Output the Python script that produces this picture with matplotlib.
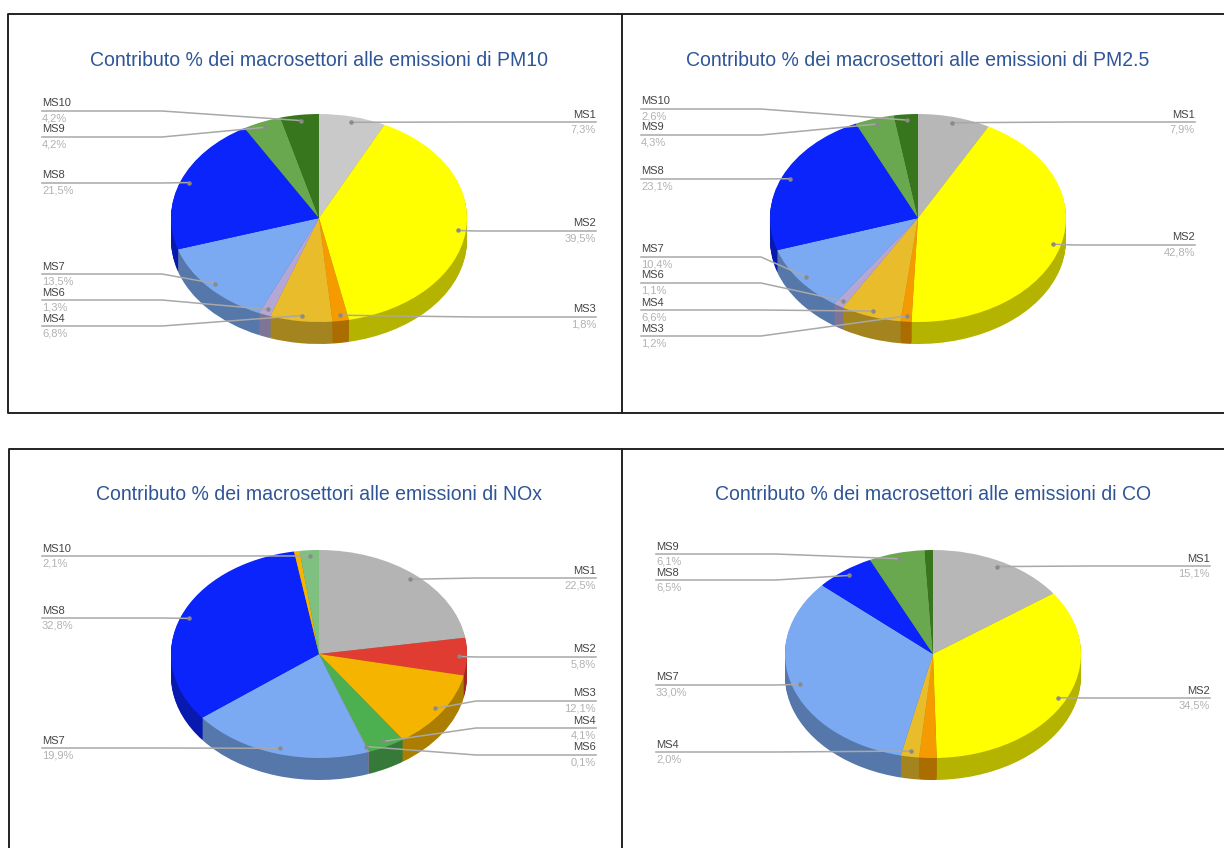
import numpy as np
import matplotlib
matplotlib.use("Agg")
import matplotlib.pyplot as plt
from matplotlib.colors import to_rgb

plt.rcParams['font.family'] = ['Liberation Sans', 'DejaVu Sans']

# Slice data, clockwise from the top
pm10_names = ["MS1", "MS2", "MS3", "MS4", "MS6", "MS7", "MS8", "MS9", "MS10"]
pm10_values = [7.3, 39.5, 1.8, 6.8, 1.3, 13.5, 21.5, 4.2, 4.2]
pm10_colors = ["#c9c9c9", "#ffff00", "#f59b00", "#e9bc2c", "#b4a7d6", "#7baaf2", "#0b24fb", "#6aa84f", "#38761d"]
pm10_line_y = [122, 231, 317, 326, 300, 274, 183, 137, 111]

pm25_names = ["MS1", "MS2", "MS3", "MS4", "MS6", "MS7", "MS8", "MS9", "MS10"]
pm25_values = [7.9, 42.8, 1.2, 6.6, 1.1, 10.4, 23.1, 4.3, 2.6]
pm25_colors = ["#b7b7b7", "#ffff00", "#f59b00", "#e9bc2c", "#b4a7d6", "#7baaf2", "#0b24fb", "#6aa84f", "#38761d"]
pm25_line_y = [122, 245, 336, 310, 283, 257, 179, 135, 109]

nox_names = ["MS1", "MS2", "MS3", "MS4", "MS6", "MS7", "MS8", "", "MS10"]
nox_values = [22.5, 5.8, 12.1, 4.1, 0.1, 19.9, 32.8, 0.6, 2.1]
nox_colors = ["#b4b4b4", "#e03c31", "#f4b400", "#4caf50", "#b4a7d6", "#7baaf2", "#0b24fb", "#f4b400", "#7fbf7f"]
nox_line_y = [578, 657, 701, 728, 755, 748, 618, None, 556]

co_names = ["MS1", "MS2", "", "MS4", "MS7", "MS8", "MS9", ""]
co_values = [15.1, 34.5, 1.9, 2.0, 33.0, 6.5, 6.1, 0.9]
co_colors = ["#b7b7b7", "#ffff00", "#f59b00", "#e9bc2c", "#7baaf2", "#0b24fb", "#6aa84f", "#38761d"]
co_line_y = [566, 698, None, 752, 685, 580, 554, None]

W, H = 1224, 848
RX, RY, DEPTH = 148, 104, 22

fig = plt.figure(figsize=(W / 100, H / 100), dpi=100)
fig.patch.set_facecolor("white")

# Overlay in pixel coordinates for frames, titles and leader lines
over = fig.add_axes([0, 0, 1, 1], zorder=5)
over.set_xlim(0, W)
over.set_ylim(H, 0)
over.axis("off")
over.patch.set_alpha(0)


def draw_chart(title, title_y, cx, cy, names, values, colors, line_y):
    """Draws one fake-3D pie with its title and labels."""
    ax = fig.add_axes([(cx - RX) / W, 1 - (cy + RY) / H, 2 * RX / W, 2 * RY / H], zorder=1)

    # The side wall is a stack of darker pies shifted downwards
    dark = [tuple(c * 0.7 for c in to_rgb(col)) for col in colors]
    for k in range(DEPTH, 0, -1):
        ax.pie(values, colors=dark, startangle=90, counterclock=False,
               center=(0, -k / RY), wedgeprops={"linewidth": 0})
    ax.pie(values, colors=colors, startangle=90, counterclock=False,
           wedgeprops={"linewidth": 0})
    ax.set_aspect("auto")
    ax.set_xlim(-1, 1)
    ax.set_ylim(-1, 1)
    for w in ax.patches:
        w.set_clip_on(False)

    over.text(cx, title_y, title, color="#2f5597", fontsize=14.05, ha="center", va="center")

    total = sum(values)
    start = 0
    for name, val, y in zip(names, values, line_y):
        mid = np.radians((start + val / 2) / total * 360)
        start += val
        if not name:
            continue
        # Leader dot sits on the slice's mid angle
        dx = cx + 0.945 * RX * np.sin(mid)
        dy = cy - 0.945 * RY * np.cos(mid)
        side = 1 if mid < np.pi else -1
        x_end = cx + side * 277
        x_elbow = cx + side * 157
        over.plot([x_end, x_elbow, dx], [y, y, dy], color="#a8a8a8", lw=1.1)
        over.plot([dx], [dy], "o", color="#8a8a8a", ms=2.2)
        ha = "right" if side > 0 else "left"
        over.text(x_end, y - 7.5, name, color="#444444", fontsize=8, ha=ha, va="center")
        over.text(x_end, y + 7.5, f"{val:.1f}%".replace(".", ","), color="#b2b2b2",
                  fontsize=8, ha=ha, va="center")


draw_chart("Contributo % dei macrosettori alle emissioni di PM10", 60, 319, 218,
           pm10_names, pm10_values, pm10_colors, pm10_line_y)
draw_chart("Contributo % dei macrosettori alle emissioni di PM2.5", 60, 918, 218,
           pm25_names, pm25_values, pm25_colors, pm25_line_y)
draw_chart("Contributo % dei macrosettori alle emissioni di NOx", 495, 319, 654,
           nox_names, nox_values, nox_colors, nox_line_y)
draw_chart("Contributo % dei macrosettori alle emissioni di CO", 495, 933, 654,
           co_names, co_values, co_colors, co_line_y)

# Panel frames
frame = {"color": "#222222", "lw": 1.4}
over.plot([W, 8, 8, W], [14, 14, 413, 413], **frame)
over.plot([622, 622], [14, 413], **frame)
over.plot([W, 9, 9], [449, 449, H], **frame)
over.plot([622, 622], [449, H], **frame)

fig.savefig("out.png", dpi=100)
